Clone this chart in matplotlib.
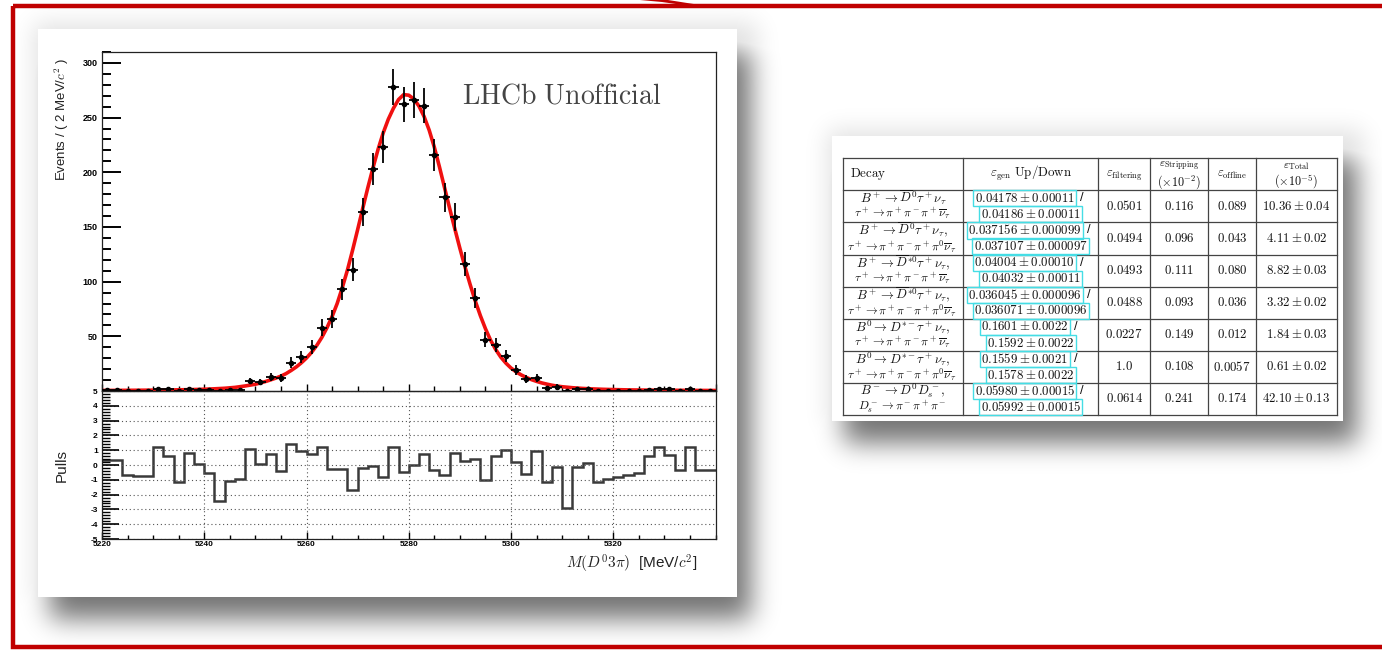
import numpy as np
import matplotlib
matplotlib.use("Agg")
import matplotlib.pyplot as plt
from matplotlib.patches import Rectangle, Polygon
from matplotlib.ticker import MultipleLocator, FuncFormatter

plt.rcParams['mathtext.fontset'] = 'cm'
plt.rcParams['axes.unicode_minus'] = False
plt.rcParams['font.family'] = ['Liberation Sans', 'DejaVu Sans']

W, H = 1382, 651

# D0 3pi invariant mass, 2 MeV bins from 5220 to 5340
bin_lo = 5220
bin_width = 2
counts = [1, 1, 0, 0, 0, 2, 2, 0, 2, 1,
          1, 0, 1, 1, 9, 8, 13, 12, 26, 31,
          40, 58, 66, 93, 111, 164, 203, 223, 278, 262,
          266, 261, 216, 177, 159, 116, 85, 47, 42, 32,
          19, 11, 12, 3, 4, 0, 2, 2, 0, 0,
          0, 0, 0, 1, 2, 2, 0, 2, 0, 0]
pulls = [0.34, 0.34, -0.68, -0.72, -0.75, 1.2, 0.63, -1.13, 0.84, 0.1,
         -0.56, -2.44, -1.1, -0.97, 1.06, 0.1, 0.77, -0.43, 1.42, 0.97,
         0.77, 1.2, -0.27, -0.3, -1.72, -0.22, -0.05, -0.8, 1.2, -0.45,
         0.0, 0.72, -0.34, -0.68, 0.79, 0.29, 0.4, -1.0, 0.63, 1.02,
         0.22, -0.59, 0.93, -1.13, -0.16, -2.9, -0.11, 0.16, -1.17, -0.95,
         -0.8, -0.68, -0.56, 0.59, 1.2, 0.68, -0.36, 1.24, -0.34, -0.34]

# fitted pdf
fit_x = [5220, 5222, 5224, 5226, 5228, 5230, 5232, 5234, 5236, 5238,
         5240, 5242, 5244, 5246, 5248, 5250, 5251, 5252, 5253, 5254,
         5255, 5256, 5257, 5258, 5259, 5260, 5261, 5262, 5263, 5264,
         5265, 5266, 5267, 5268, 5269, 5270, 5271, 5272, 5273, 5274,
         5275, 5276, 5277, 5278, 5279, 5280, 5281, 5282, 5283, 5284,
         5285, 5286, 5287, 5288, 5289, 5290, 5291, 5292, 5293, 5294,
         5295, 5296, 5297, 5298, 5299, 5300, 5301, 5302, 5303, 5304,
         5305, 5306, 5307, 5308, 5309, 5310, 5312, 5314, 5316, 5318,
         5320, 5322, 5324, 5326, 5328, 5330, 5332, 5334, 5336, 5338, 5340]
fit_y = [0.5, 0.55, 0.6, 0.65, 0.72, 0.8, 0.9, 1.0, 1.15, 1.35,
         1.6, 2.0, 2.5, 3.3, 4.6, 6.2, 7.4, 8.7, 10.2, 11.8,
         13.6, 15.9, 18.8, 22.0, 25.8, 30.2, 35.4, 41.6, 49.0, 57.8,
         68.0, 80.0, 94.5, 110.5, 128.5, 147.5, 167.0, 186.0, 204.0, 221.0,
         236.0, 248.5, 258.5, 266.5, 271.0, 270.5, 267.0, 260.5, 251.0, 238.5,
         223.0, 205.0, 186.0, 167.0, 148.5, 130.5, 113.5, 97.5, 82.5, 69.0,
         57.0, 46.5, 38.0, 31.0, 25.5, 21.0, 17.5, 14.7, 12.4, 10.4,
         8.8, 7.4, 6.3, 5.3, 4.5, 3.9, 3.0, 2.35, 1.9, 1.55,
         1.3, 1.1, 0.95, 0.85, 0.76, 0.69, 0.63, 0.58, 0.54, 0.5, 0.47]

# efficiency table
decay_top = [r'$B^+\to\overline{D}^0\tau^+\nu_\tau$',
             r'$B^+\to\overline{D}^0\tau^+\nu_\tau,$',
             r'$B^+\to\overline{D}^{*0}\tau^+\nu_\tau,$',
             r'$B^+\to\overline{D}^{*0}\tau^+\nu_\tau,$',
             r'$B^0\to D^{*-}\tau^+\nu_\tau,$',
             r'$B^0\to D^{*-}\tau^+\nu_\tau,$',
             r'$B^-\to D^0D_s^-,$']
decay_bot = [r'$\tau^+\to\pi^+\pi^-\pi^+\overline{\nu}_\tau$',
             r'$\tau^+\to\pi^+\pi^-\pi^+\pi^0\overline{\nu}_\tau$',
             r'$\tau^+\to\pi^+\pi^-\pi^+\overline{\nu}_\tau$',
             r'$\tau^+\to\pi^+\pi^-\pi^+\pi^0\overline{\nu}_\tau$',
             r'$\tau^+\to\pi^+\pi^-\pi^+\overline{\nu}_\tau$',
             r'$\tau^+\to\pi^+\pi^-\pi^+\pi^0\overline{\nu}_\tau$',
             r'$D_s^-\to\pi^-\pi^+\pi^-$']
eff_gen_up = ['0.04178 \\pm 0.00011', '0.037156 \\pm 0.000099', '0.04004 \\pm 0.00010',
              '0.036045 \\pm 0.000096', '0.1601 \\pm 0.0022', '0.1559 \\pm 0.0021',
              '0.05980 \\pm 0.00015']
eff_gen_down = ['0.04186 \\pm 0.00011', '0.037107 \\pm 0.000097', '0.04032 \\pm 0.00011',
                '0.036071 \\pm 0.000096', '0.1592 \\pm 0.0022', '0.1578 \\pm 0.0022',
                '0.05992 \\pm 0.00015']
eff_filter = ['0.0501', '0.0494', '0.0493', '0.0488', '0.0227', '1.0', '0.0614']
eff_strip = ['0.116', '0.096', '0.111', '0.093', '0.149', '0.108', '0.241']
eff_offline = ['0.089', '0.043', '0.080', '0.036', '0.012', '0.0057', '0.174']
eff_total = ['10.36 \\pm 0.04', '4.11 \\pm 0.02', '8.82 \\pm 0.03', '3.32 \\pm 0.02',
             '1.84 \\pm 0.03', '0.61 \\pm 0.02', '42.10 \\pm 0.13']


def soft_rect(x0, y0, x1, y1, sigma):
    m = np.zeros((H, W))
    m[int(y0):int(y1), int(x0):int(x1)] = 1.0
    r = int(3 * sigma)
    k = np.exp(-0.5 * (np.arange(-r, r + 1) / sigma) ** 2)
    k /= k.sum()
    m = np.apply_along_axis(lambda v: np.convolve(v, k, 'same'), 1, m)
    m = np.apply_along_axis(lambda v: np.convolve(v, k, 'same'), 0, m)
    return m


fig = plt.figure(figsize=(W / 100, H / 100), dpi=100)
fig.patch.set_facecolor('white')

# slide layer in pixel coordinates
bg = fig.add_axes([0, 0, 1, 1])
bg.set_xlim(0, W)
bg.set_ylim(H, 0)
bg.axis('off')

plot_card = (38, 29, 737, 597)
table_card = (832, 136, 1343, 421)

shade = np.zeros((H, W))
for (x0, y0, x1, y1) in (plot_card, table_card):
    shade = np.maximum(shade, 0.55 * soft_rect(x0 + 12, y0 + 22, x1 + 14, y1 + 22, 13))
    shade = np.maximum(shade, 0.12 * soft_rect(x0 - 4, y0 - 6, x1 + 20, y1 + 6, 12))
rgba = np.zeros((H, W, 4))
rgba[..., 3] = shade
bg.imshow(rgba, extent=(0, W, H, 0), zorder=0, interpolation='bilinear')

for (x0, y0, x1, y1) in (plot_card, table_card):
    bg.add_patch(Rectangle((x0, y0), x1 - x0, y1 - y0, fc='white', ec='none', zorder=1))

# red slide frame
bg.add_patch(Rectangle((13, 6), 1400, 641, fill=False, ec='#c00000', lw=3.2, zorder=5))
bg.add_patch(Polygon([(640, 0), (668, 0), (700, 5), (690, 6), (662, 2)],
                     closed=True, fc='#c00000', ec='none', zorder=5))

# mass fit panel
ax_left, ax_right = 102, 715.5
ax1 = fig.add_axes([ax_left / W, 1 - 391 / H, (ax_right - ax_left) / W, (391 - 52) / H])
ax2 = fig.add_axes([ax_left / W, 1 - 539 / H, (ax_right - ax_left) / W, (539 - 391) / H])
for ax in (ax1, ax2):
    ax.set_facecolor('none')
    ax.set_xlim(5220, 5340)
    for s in ax.spines.values():
        s.set_linewidth(0.9)
        s.set_color('#222')

edges = bin_lo + bin_width * np.arange(len(counts) + 1)
centers = edges[:-1] + bin_width / 2
n = np.array(counts, dtype=float)
err_lo = np.sqrt(n)
err_hi = np.where(n > 0, np.sqrt(n), 1.15)

ax1.errorbar(centers, n, xerr=bin_width / 2, yerr=[err_lo, err_hi], fmt='o', ms=3,
             color='black', ecolor='black', elinewidth=1.3, capsize=0, zorder=3)
ax1.plot(fit_x, fit_y, color='#f01010', lw=2.6, zorder=2, solid_capstyle='round')
ax1.set_ylim(0, 310)
ax1.yaxis.set_major_locator(MultipleLocator(50))
ax1.yaxis.set_minor_locator(MultipleLocator(10))
ax1.yaxis.set_major_formatter(FuncFormatter(lambda v, p: '' if v == 0 else '%d' % v))
ax1.xaxis.set_major_locator(MultipleLocator(20))
ax1.xaxis.set_minor_locator(MultipleLocator(5))
ax1.tick_params(axis='y', which='major', direction='in', length=13.5, width=1.4,
                labelsize=6.5, pad=3, right=False)
ax1.tick_params(axis='y', which='minor', direction='in', length=6.8, width=1.4, right=False)
ax1.tick_params(axis='x', which='major', direction='in', length=5, width=1.0,
                labelbottom=False, top=False)
ax1.tick_params(axis='x', which='minor', direction='in', length=3.5, width=1.0, top=False)
for lab in ax1.get_yticklabels():
    lab.set_fontweight('bold')

ax2.stairs(pulls, edges, baseline=None, color='#3a3a3a', lw=1.8)
ax2.set_ylim(-5, 5)
ax2.set_xticks(np.arange(5220, 5321, 20))
ax2.xaxis.set_minor_locator(MultipleLocator(5))
ax2.yaxis.set_major_locator(MultipleLocator(1))
ax2.yaxis.set_minor_locator(MultipleLocator(0.2))
ax2.grid(True, which='major', ls=(0, (1, 2.5)), color='#555', lw=0.8)
ax2.tick_params(axis='y', which='major', direction='in', length=12, width=1.2,
                labelsize=6, pad=3, right=False)
ax2.tick_params(axis='y', which='minor', direction='in', length=5.5, width=1.0, right=False)
ax2.tick_params(axis='x', which='major', direction='in', length=5, width=1.0,
                labelsize=6, pad=1.5, top=False)
ax2.tick_params(axis='x', which='minor', direction='in', length=3, width=1.0, top=False)
for lab in ax2.get_yticklabels() + ax2.get_xticklabels():
    lab.set_fontweight('bold')

bg.text(62, 58, r'Events / ( 2 MeV/$c^2$ )', rotation=90, ha='center', va='top',
        fontsize=9.5, color='#222', zorder=6)
bg.text(62, 466, 'Pulls', rotation=90, ha='center', va='center', fontsize=11,
        color='#222', zorder=6)
bg.text(697, 564, r'$M(D^0 3\pi)$  [MeV/$c^2$]', ha='right', va='center',
        fontsize=11, color='#222', zorder=6)
bg.text(462, 96, r'$\mathrm{LHCb\ Unofficial}$', ha='left', va='center',
        fontsize=20, color='#444', zorder=6)

# efficiency table
col_edges = [843, 963, 1098.5, 1150, 1208, 1256, 1337]
row_edges = [158, 190, 222, 254.5, 287, 319, 351, 383, 415]
for x in col_edges:
    bg.plot([x, x], [row_edges[0], row_edges[-1]], color='#444', lw=0.9, zorder=6)
for y in row_edges:
    bg.plot([col_edges[0], col_edges[-1]], [y, y], color='#444', lw=0.9, zorder=6)

mid = [(col_edges[i] + col_edges[i + 1]) / 2 for i in range(len(col_edges) - 1)]
hy = (row_edges[0] + row_edges[1]) / 2
fs = 9.3
tkw = dict(color='#111', zorder=7)
bg.text(850, hy, r'$\mathrm{Decay}$', ha='left', va='center', fontsize=fs, **tkw)
bg.text(mid[1], hy - 1, r'$\varepsilon_{\mathrm{gen}}\ \mathrm{Up/Down}$', ha='center',
        va='center', fontsize=fs, **tkw)
bg.text(mid[2], hy + 1, r'$\varepsilon_{\mathrm{filtering}}$', ha='center', va='center',
        fontsize=fs - 0.5, **tkw)
bg.text(mid[3], hy - 7.5, r'$\varepsilon_{\mathrm{Stripping}}$', ha='center', va='center',
        fontsize=fs - 1, **tkw)
bg.text(mid[3], hy + 8, r'$(\times10^{-2})$', ha='center', va='center', fontsize=fs - 0.5, **tkw)
bg.text(mid[4], hy + 1, r'$\varepsilon_{\mathrm{offline}}$', ha='center', va='center',
        fontsize=fs - 0.5, **tkw)
bg.text(mid[5], hy - 7.5, r'$\varepsilon_{\mathrm{Total}}$', ha='center', va='center',
        fontsize=fs - 1, **tkw)
bg.text(mid[5], hy + 8, r'$(\times10^{-5})$', ha='center', va='center', fontsize=fs - 0.5, **tkw)

renderer = fig.canvas.get_renderer()
box = dict(boxstyle='square,pad=0.1', fc='none', ec='#45dde5', lw=1.0)
for i in range(len(decay_top)):
    yc = (row_edges[i + 1] + row_edges[i + 2]) / 2
    bg.text(mid[0], yc - 8, decay_top[i], ha='center', va='center', fontsize=fs, **tkw)
    bg.text(mid[0] - 1, yc + 8, decay_bot[i], ha='center', va='center', fontsize=fs - 0.8, **tkw)
    t = bg.text(mid[1] - 6, yc - 8, '$' + eff_gen_up[i] + '$', ha='center', va='center',
                fontsize=fs, bbox=box, **tkw)
    ext = t.get_window_extent(renderer)
    bg.text(ext.x1 + 7, yc - 8, '/', ha='center', va='center', fontsize=fs, **tkw)
    bg.text(mid[1], yc + 8, '$' + eff_gen_down[i] + '$', ha='center', va='center',
            fontsize=fs, bbox=box, **tkw)
    bg.text(mid[2], yc, '$' + eff_filter[i] + '$', ha='center', va='center', fontsize=fs, **tkw)
    bg.text(mid[3], yc, '$' + eff_strip[i] + '$', ha='center', va='center', fontsize=fs, **tkw)
    bg.text(mid[4], yc, '$' + eff_offline[i] + '$', ha='center', va='center', fontsize=fs, **tkw)
    bg.text(mid[5], yc, '$' + eff_total[i] + '$', ha='center', va='center', fontsize=fs, **tkw)

fig.savefig('out.png', dpi=100)
